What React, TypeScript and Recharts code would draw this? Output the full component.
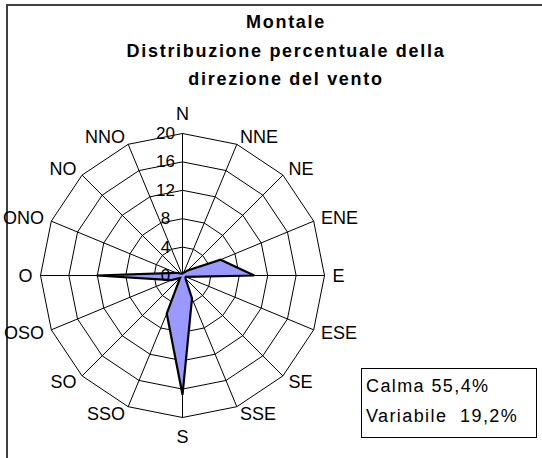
import React from "react";
import {
  PolarAngleAxis,
  PolarGrid,
  PolarRadiusAxis,
  Radar,
  RadarChart,
} from "recharts";

// direzioni (senso orario da N) e frequenze percentuali
const directions = [
  "N", "NNE", "NE", "ENE", "E", "ESE", "SE", "SSE",
  "S", "SSO", "SO", "OSO", "O", "ONO", "NO", "NNO",
];
const frequencies = [
  0.3, 0.4, 1.0, 5.8, 10.1, 0.5, 0.6, 3.5,
  16.8, 5.8, 0.5, 1.7, 12.1, 1.0, 0.4, 0.3,
];
const radiusTicks = [0, 4, 8, 12, 16, 20];
const titleLines = [
  "Montale",
  "Distribuzione percentuale della",
  "direzione del vento",
];
const notes = ["Calma 55,4%", "Variabile  19,2%"];

const CX = 182.5;
const CY = 275.5;
const R = 142;
const FONT = "'Liberation Sans', Arial, sans-serif";

const data = directions.map((d, i) => ({ dir: d, value: frequencies[i] }));

const AngleTick = (props: any) => {
  const { x, y, payload } = props;
  const dx = x - CX;
  const dy = y - CY;
  const len = Math.hypot(dx, dy) || 1;
  const ux = dx / len;
  const uy = dy / len;
  const tx = CX + ux * (R + 8);
  let ty = CY + uy * (R + 8);
  let anchor = "middle";
  if (ux > 0.01) anchor = "start";
  else if (ux < -0.01) anchor = "end";
  else ty += uy < 0 ? -12 : 11;
  return (
    <text
      x={tx}
      y={ty}
      textAnchor={anchor}
      dominantBaseline="central"
      fontSize={18}
      fontFamily={FONT}
      fill="#000"
    >
      {payload.value}
    </text>
  );
};

const RadiusTick = (props: any) => {
  const { x, y, payload } = props;
  return (
    <text
      x={x - 17}
      y={y}
      textAnchor="middle"
      dominantBaseline="central"
      fontSize={17}
      fontFamily={FONT}
      fill="#000"
    >
      {payload.value}
    </text>
  );
};

export default function App() {
  return (
    <div
      style={{
        position: "absolute",
        left: 0,
        top: 0,
        width: 542,
        height: 458,
        overflow: "hidden",
        background: "#fff",
      }}
    >
      <div
        style={{
          position: "absolute",
          left: 6,
          top: 4,
          width: 600,
          height: 600,
          borderTop: "2px solid #404040",
          borderLeft: "2px solid #404040",
        }}
      />
      <div style={{ position: "absolute", left: 0, top: 0 }}>
        <RadarChart
          width={542}
          height={458}
          cx={CX}
          cy={CY}
          outerRadius={R}
          data={data}
          startAngle={90}
          endAngle={-270}
          margin={{ top: 0, right: 0, bottom: 0, left: 0 }}
        >
          <PolarGrid gridType="polygon" stroke="#000" strokeOpacity={1} />
          <PolarAngleAxis
            dataKey="dir"
            tick={AngleTick}
            tickLine={false}
            axisLine={false}
          />
          <PolarRadiusAxis
            angle={90}
            domain={[0, 20]}
            ticks={radiusTicks as any}
            tickCount={6}
            axisLine={false}
            tickLine={false}
            tick={RadiusTick}
          />
          <Radar
            dataKey="value"
            stroke="#000"
            strokeWidth={2.2}
            fill="#9999FF"
            fillOpacity={1}
            dot={false}
            isAnimationActive={false}
          />
        </RadarChart>
      </div>
      <svg
        width={542}
        height={458}
        style={{ position: "absolute", left: 0, top: 0, pointerEvents: "none" }}
      >
        {titleLines.map((t, i) => (
          <text
            key={t}
            x={286}
            y={28 + i * 28.7}
            textAnchor="middle"
            fontSize={18}
            fontWeight="bold"
            fontFamily={FONT}
            letterSpacing={1.7}
            fill="#000"
          >
            {t}
          </text>
        ))}
        <rect
          x={361.5}
          y={368.5}
          width={175}
          height={69}
          fill="#fff"
          stroke="#000"
          strokeWidth={1}
        />
        {notes.map((n, i) => (
          <text
            key={n}
            x={366}
            y={391.5 + i * 30}
            fontSize={18}
            fontFamily={FONT}
            letterSpacing={1.4}
            fill="#000"
            style={{ whiteSpace: "pre" }}
          >
            {n}
          </text>
        ))}
      </svg>
    </div>
  );
}
